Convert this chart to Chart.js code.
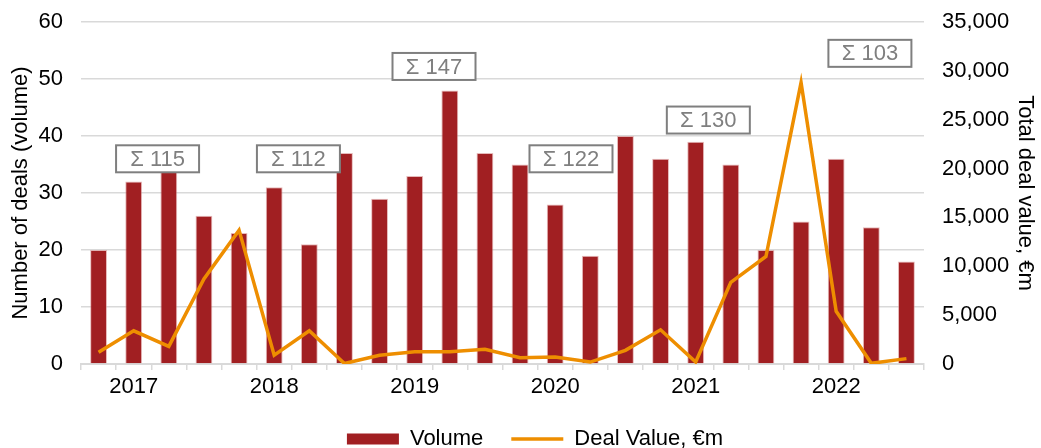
<!DOCTYPE html>
<html>
<head>
<meta charset="utf-8">
<script src="https://cdn.jsdelivr.net/npm/chart.js@4/dist/chart.umd.min.js"></script>
<style>
  html, body { margin: 0; padding: 0; background: #fff; }
  #wrap { width: 1041px; height: 448px; }
</style>
</head>
<body>
<div id="wrap"><canvas id="chart"></canvas></div>
<script>
// Quarterly deals, 2017 - 2022
const quarters = [
    'Q1 2017', 'Q2 2017', 'Q3 2017', 'Q4 2017',
    'Q1 2018', 'Q2 2018', 'Q3 2018', 'Q4 2018',
    'Q1 2019', 'Q2 2019', 'Q3 2019', 'Q4 2019',
    'Q1 2020', 'Q2 2020', 'Q3 2020', 'Q4 2020',
    'Q1 2021', 'Q2 2021', 'Q3 2021', 'Q4 2021',
    'Q1 2022', 'Q2 2022', 'Q3 2022', 'Q4 2022'
];
const yearTicks = [
    '', '2017', '', '', '', '2018', '', '', '', '2019', '', '',
    '', '2020', '', '', '', '2021', '', '', '', '2022', '', ''
];
const volume = [
    20, 32, 37, 26, 23, 31, 21, 37, 29, 33, 48, 37,
    35, 28, 19, 40, 36, 39, 35, 20, 25, 36, 24, 18
];
const dealValue = [
    1200, 3400, 1800, 8700, 13700, 900, 3400, 50, 900, 1250, 1250, 1500,
    650, 720, 200, 1400, 3500, 200, 8350, 11000, 28800, 5400, 70, 550
];
const years = ['2017', '2018', '2019', '2020', '2021', '2022'];
// where each yearly sum box sits (category index, left axis value)
const sumBoxX = [1.68, 5.69, 9.55, 13.45, 17.36, 21.96];
const sumBoxY = [36, 36, 52.2, 36, 42.8, 54.5];

const FONT = '"Liberation Sans", Arial, sans-serif';

// Draw the "Σ total" boxes over the bars
const sumBoxes = {
    id: 'sumBoxes',
    afterLayout(chart) {
        // nudge the legend a little to the right, like the original
        chart.legend.left += 12;
        chart.legend.right += 12;
    },
    afterDatasetsDraw(chart) {
        const ctx = chart.ctx;
        const xs = chart.scales.x;
        const ys = chart.scales.y;
        ctx.save();
        ctx.font = '22px ' + FONT;
        ctx.textAlign = 'center';
        ctx.textBaseline = 'middle';
        years.forEach((yr, i) => {
            const total = volume.slice(i * 4, i * 4 + 4).reduce((a, b) => a + b, 0);
            const cx = xs.getPixelForValue(sumBoxX[i]);
            const cy = ys.getPixelForValue(sumBoxY[i]);
            const w = 83, h = 27;
            ctx.fillStyle = '#fff';
            ctx.fillRect(cx - w / 2, cy - h / 2, w, h);
            ctx.strokeStyle = '#7f7f7f';
            ctx.lineWidth = 2;
            ctx.strokeRect(cx - w / 2, cy - h / 2, w, h);
            ctx.fillStyle = '#7f7f7f';
            ctx.fillText('Σ ' + total, cx, cy + 1);
        });
        ctx.restore();
    }
};

Chart.defaults.font.family = FONT;
Chart.defaults.font.size = 22;
Chart.defaults.color = '#000';

new Chart(document.getElementById('chart'), {
    data: {
        labels: quarters,
        datasets: [{
            type: 'bar',
            label: 'Volume',
            data: volume,
            yAxisID: 'y',
            backgroundColor: '#A11F22',
            borderColor: 'rgba(214,140,140,0.6)',
            borderWidth: 1,
            barPercentage: 0.48,
            categoryPercentage: 1,
            order: 1
        }, {
            type: 'line',
            label: 'Deal Value, €m',
            data: dealValue,
            yAxisID: 'y1',
            borderColor: '#EE8E00',
            backgroundColor: '#EE8E00',
            borderWidth: 3.5,
            pointRadius: 0,
            tension: 0,
            order: 0
        }]
    },
    options: {
        responsive: true,
        maintainAspectRatio: false,
        animation: false,
        layout: { padding: { top: 22, right: 3, left: 8, bottom: -12 } },
        plugins: {
            tooltip: { enabled: false },
            legend: {
                position: 'bottom',
                labels: {
                    usePointStyle: true,
                    pointStyleWidth: 52,
                    boxWidth: 52,
                    boxHeight: 11,
                    padding: 28,
                    font: { size: 22, lineHeight: 1 },
                    generateLabels(chart) {
                        return chart.data.datasets.map((ds, i) => ({
                            text: ds.label,
                            datasetIndex: i,
                            pointStyle: ds.type === 'line' ? 'line' : 'rect',
                            fillStyle: ds.backgroundColor,
                            strokeStyle: ds.borderColor,
                            lineWidth: ds.type === 'line' ? 3.5 : 0,
                            fontColor: '#000',
                            hidden: false
                        }));
                    }
                }
            }
        },
        scales: {
            x: {
                grid: {
                    offset: true,
                    drawOnChartArea: false,
                    drawTicks: true,
                    tickLength: 6,
                    color: '#d9d9d9',
                    lineWidth: 1.5
                },
                border: { color: '#d9d9d9', width: 2 },
                ticks: {
                    autoSkip: false,
                    maxRotation: 0,
                    padding: 4,
                    callback: (v, i) => yearTicks[i]
                },
                afterFit: (s) => { s.height = 36; }
            },
            y: {
                position: 'left',
                min: 0,
                max: 60,
                ticks: { stepSize: 10, padding: 18 },
                grid: { color: '#d9d9d9', lineWidth: 1.5, drawTicks: false },
                border: { display: false },
                title: {
                    display: true,
                    text: 'Number of deals (volume)',
                    padding: 0
                },
                afterFit: (s) => { s.width = 73; s.paddingTop = 0; }
            },
            y1: {
                position: 'right',
                min: 0,
                max: 35000,
                ticks: {
                    stepSize: 5000,
                    padding: 18,
                    callback: (v) => v.toLocaleString('en-US')
                },
                grid: { drawOnChartArea: false, drawTicks: false },
                border: { display: false },
                title: {
                    display: true,
                    text: 'Total deal value, €m',
                    padding: 0
                },
                afterFit: (s) => { s.width = 114; s.paddingTop = 0; }
            }
        }
    },
    plugins: [sumBoxes]
});
</script>
</body>
</html>
